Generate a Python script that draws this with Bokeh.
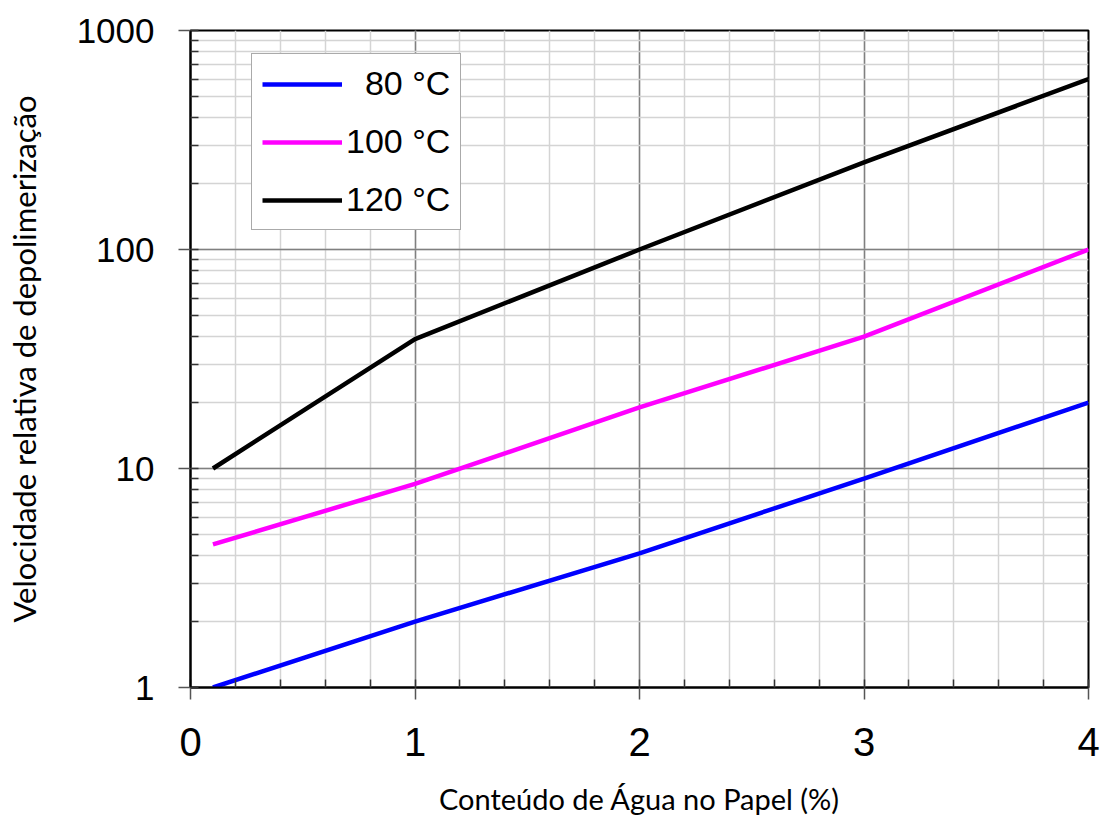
from bokeh.plotting import figure
from bokeh.models import Legend, LegendItem, SingleIntervalTicker, LogTicker, Range1d, NumeralTickFormatter
from bokeh.embed import file_html
from bokeh.resources import INLINE

# data
water = [0.1, 1, 2, 3, 4]
v80 = [1.0, 2.0, 4.1, 9.0, 20.0]
v100 = [4.5, 8.5, 19.0, 40.0, 100.0]
v120 = [10.0, 39.0, 100.0, 250.0, 600.0]
labels = ["\u200780 °C", "100 °C", "120 °C"]
colors = ["#0000ff", "#ff00ff", "#000000"]

p = figure(width=1100, height=818, y_axis_type="log",
           x_range=Range1d(0, 4), y_range=Range1d(1, 1000),
           output_backend="svg", toolbar_location=None,
           min_border_left=190, min_border_right=12,
           min_border_top=30, min_border_bottom=131)

p.background_fill_color = "white"
p.border_fill_color = "white"
p.outline_line_color = "black"
p.outline_line_width = 2

renderers = []
for ys, c in zip([v80, v100, v120], colors):
    r = p.line(water, ys, line_color=c, line_width=4.5)
    renderers.append(r)

p.xaxis.ticker = SingleIntervalTicker(interval=1, num_minor_ticks=5)
p.yaxis.ticker = LogTicker(num_minor_ticks=10)
p.yaxis.formatter = NumeralTickFormatter(format="0")

for ax in (p.xaxis[0], p.yaxis[0]):
    ax.axis_line_color = "black"
    ax.axis_line_width = 2
    ax.major_tick_line_color = "#555555"
    ax.major_tick_line_width = 1.5
    ax.major_tick_out = 12
    ax.major_tick_in = 0
    ax.minor_tick_line_color = "#333333"
    ax.minor_tick_line_width = 1.5
    ax.minor_tick_in = 8
    ax.minor_tick_out = 0
    ax.major_label_text_font = "Liberation Sans"
    ax.major_label_text_color = "black"
    ax.axis_label_text_font = "Lato"
    ax.axis_label_text_font_style = "normal"
    ax.axis_label_text_color = "black"

p.xaxis.major_label_text_font_size = "40px"
p.yaxis.major_label_text_font_size = "35px"
p.xaxis.axis_label_text_font_size = "29px"
p.yaxis.axis_label_text_font_size = "31px"
p.xaxis.axis_label = "Conteúdo de Água no Papel (%)"
p.yaxis.axis_label = "Velocidade relativa de depolimerização"
p.xaxis.major_label_standoff = 28
p.yaxis.major_label_standoff = 24
p.xaxis.axis_label_standoff = 22
p.yaxis.axis_label_standoff = 31

p.xgrid.grid_line_color = "#808080"
p.xgrid.grid_line_width = 1.5
p.xgrid.minor_grid_line_color = "#d4d4d4"
p.xgrid.minor_grid_line_width = 1.5
p.ygrid.grid_line_color = "#808080"
p.ygrid.grid_line_width = 1.5
p.ygrid.minor_grid_line_color = "#d4d4d4"
p.ygrid.minor_grid_line_width = 1.5

legend = Legend(items=[LegendItem(label=l, renderers=[r]) for l, r in zip(labels, renderers)],
                location=(61, 457))
legend.label_text_font = "Liberation Sans"
legend.label_text_font_size = "34px"
legend.label_text_color = "black"
legend.glyph_width = 80
legend.glyph_height = 30
legend.label_height = 30
legend.spacing = 19
legend.padding = 10
legend.margin = 0
legend.label_standoff = 4
legend.border_line_color = "#555555"
legend.border_line_width = 1.5
legend.background_fill_alpha = 1
p.add_layout(legend)

open("out.html", "w").write(file_html(p, INLINE))
